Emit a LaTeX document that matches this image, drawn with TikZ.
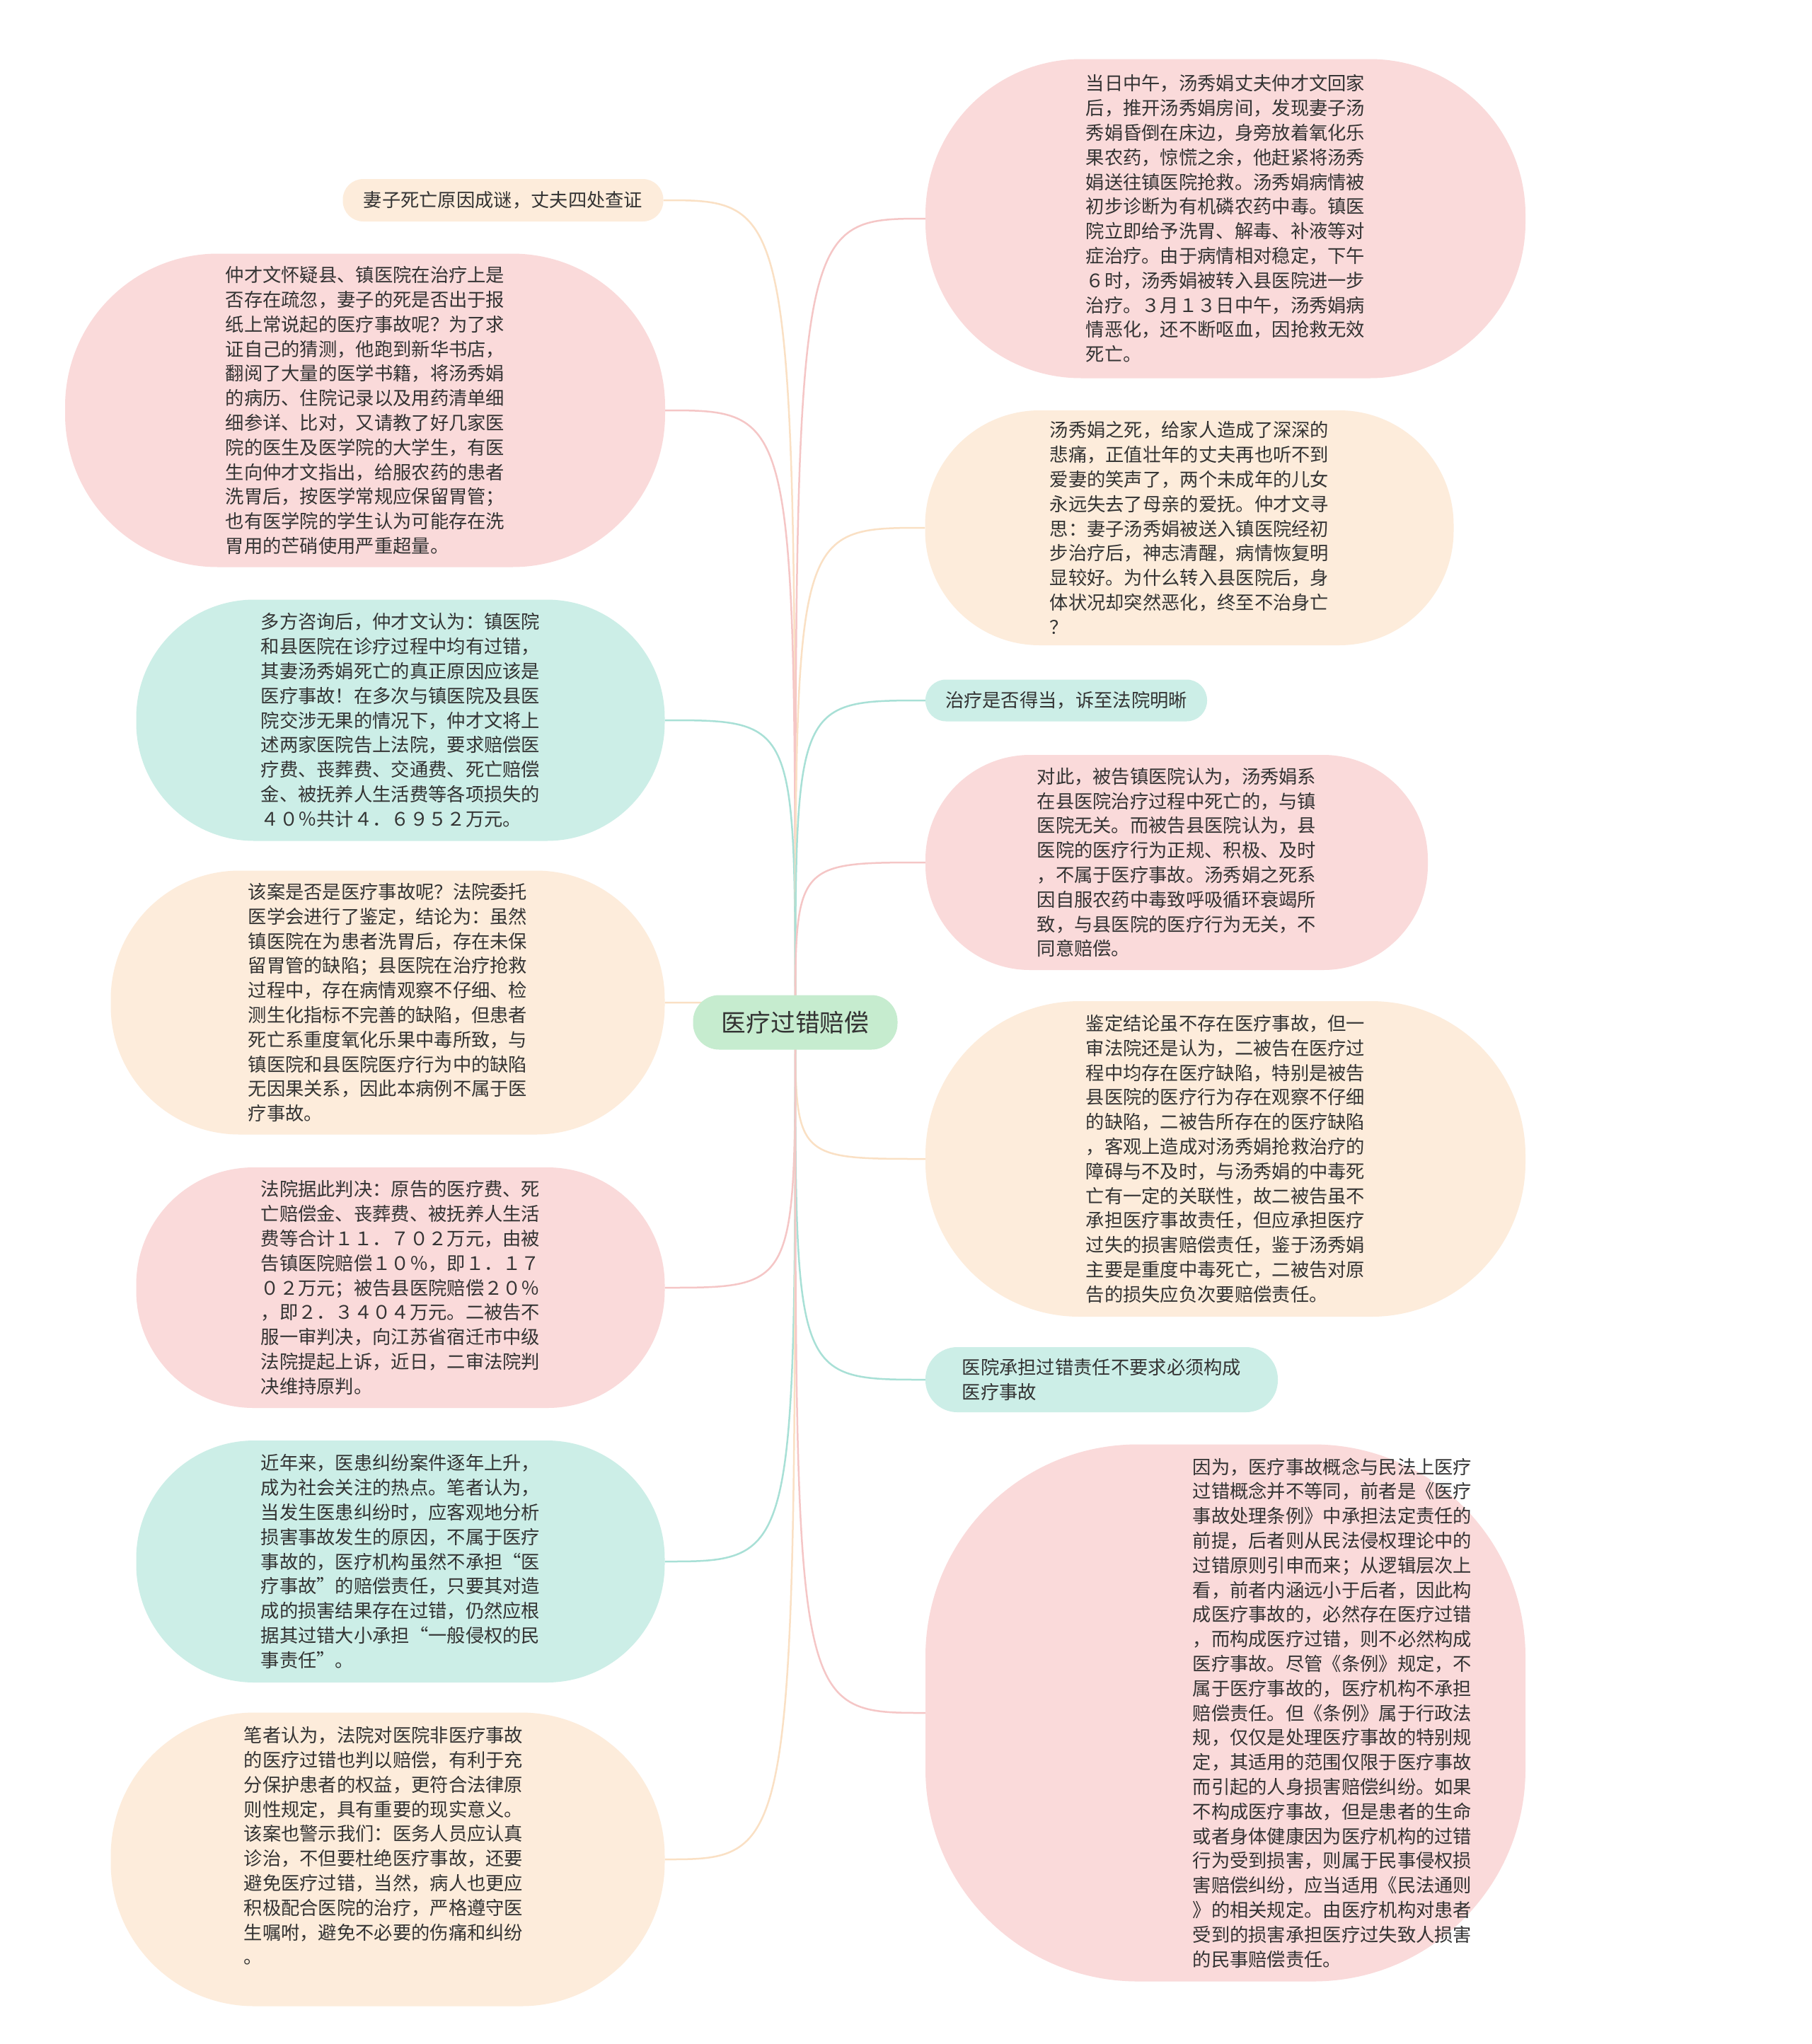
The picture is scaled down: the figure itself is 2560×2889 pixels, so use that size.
\documentclass[tikz,border=0pt]{standalone}
\usepackage{fontspec}
\setmainfont{Noto Sans CJK SC}
\usepackage{tikz}
\definecolor{inkgray}{RGB}{51,51,51}
\definecolor{pinkfill}{RGB}{250,218,218}
\definecolor{peachfill}{RGB}{253,236,219}
\definecolor{tealfill}{RGB}{204,238,231}
\definecolor{rootfill}{RGB}{198,236,207}
\definecolor{pinkedge}{RGB}{245,198,198}
\definecolor{peachedge}{RGB}{250,224,196}
\definecolor{tealedge}{RGB}{168,224,214}
\tikzset{
    every node/.style={text=inkgray, align=left, inner sep=0pt,
    	font=\fontsize{26.3pt}{34.8pt}\selectfont}
}
\tikzset{
    pinkbox/.style={fill=pinkfill},
    peachbox/.style={fill=peachfill},
    tealbox/.style={fill=tealfill},
    rootbox/.style={fill=rootfill, font=\fontsize{34.7pt}{40pt}\selectfont}
}
\tikzset{
    pinkwire/.style={draw=pinkedge, line width=2.5pt},
    peachwire/.style={draw=peachedge, line width=2.5pt},
    tealwire/.style={draw=tealedge, line width=2.5pt}
}
\pgfdeclarelayer{background}
\pgfsetlayers{background,main}

\begin{document}
\begin{tikzpicture}[x=1pt, y=-1pt]
	\useasboundingbox (0,0) rectangle (2560,2889);
	\node (root) [rootbox, minimum width=289pt, minimum height=77pt, rounded corners=37pt] at (1124, 1445) {医疗过错赔偿};

	% left branch
	\node (l1) [peachbox, minimum width=453pt, minimum height=60pt, rounded corners=29pt] at (711, 283) {妻子死亡原因成谜，丈夫四处查证};
	\node (l2) [pinkbox, minimum width=848pt, minimum height=443pt, rounded corners=216pt] at (516, 580) {仲才文怀疑县、镇医院在治疗上是\\否存在疏忽，妻子的死是否出于报\\纸上常说起的医疗事故呢？为了求\\证自己的猜测，他跑到新华书店，\\翻阅了大量的医学书籍，将汤秀娟\\的病历、住院记录以及用药清单细\\细参详、比对，又请教了好几家医\\院的医生及医学院的大学生，有医\\生向仲才文指出，给服农药的患者\\洗胃后，按医学常规应保留胃管；\\也有医学院的学生认为可能存在洗\\胃用的芒硝使用严重超量。};
	\node (l3) [tealbox, minimum width=747pt, minimum height=341pt, rounded corners=167pt] at (566, 1018) {多方咨询后，仲才文认为：镇医院\\和县医院在诊疗过程中均有过错，\\其妻汤秀娟死亡的真正原因应该是\\医疗事故！在多次与镇医院及县医\\院交涉无果的情况下，仲才文将上\\述两家医院告上法院，要求赔偿医\\疗费、丧葬费、交通费、死亡赔偿\\金、被抚养人生活费等各项损失的\\４０％共计４．６９５２万元。};
	\node (l4) [peachbox, minimum width=783pt, minimum height=373pt, rounded corners=182pt] at (548, 1417) {该案是否是医疗事故呢？法院委托\\医学会进行了鉴定，结论为：虽然\\镇医院在为患者洗胃后，存在未保\\留胃管的缺陷；县医院在治疗抢救\\过程中，存在病情观察不仔细、检\\测生化指标不完善的缺陷，但患者\\死亡系重度氧化乐果中毒所致，与\\镇医院和县医院医疗行为中的缺陷\\无因果关系，因此本病例不属于医\\疗事故。};
	\node (l5) [pinkbox, minimum width=747pt, minimum height=340pt, rounded corners=166pt] at (566, 1820) {法院据此判决：原告的医疗费、死\\亡赔偿金、丧葬费、被抚养人生活\\费等合计１１．７０２万元，由被\\告镇医院赔偿１０％，即１．１７\\０２万元；被告县医院赔偿２０％\\，即２．３４０４万元。二被告不\\服一审判决，向江苏省宿迁市中级\\法院提起上诉，近日，二审法院判\\决维持原判。};
	\node (l6) [tealbox, minimum width=747pt, minimum height=342pt, rounded corners=167pt] at (566, 2207) {近年来，医患纠纷案件逐年上升，\\成为社会关注的热点。笔者认为，\\当发生医患纠纷时，应客观地分析\\损害事故发生的原因，不属于医疗\\事故的，医疗机构虽然不承担“医\\疗事故”的赔偿责任，只要其对造\\成的损害结果存在过错，仍然应根\\据其过错大小承担“一般侵权的民\\事责任”。};
	\node (l7) [peachbox, minimum width=783pt, minimum height=415pt, rounded corners=203pt] at (548, 2628) {};
	\node (l7text) at (542, 2609) {笔者认为，法院对医院非医疗事故\\的医疗过错也判以赔偿，有利于充\\分保护患者的权益，更符合法律原\\则性规定，具有重要的现实意义。\\该案也警示我们：医务人员应认真\\诊治，不但要杜绝医疗事故，还要\\避免医疗过错，当然，病人也更应\\积极配合医院的治疗，严格遵守医\\生嘱咐，避免不必要的伤痛和纠纷\\。};

	% right branch
	\node (r1) [pinkbox, minimum width=848pt, minimum height=451pt, rounded corners=220pt] at (1732, 309) {当日中午，汤秀娟丈夫仲才文回家\\后，推开汤秀娟房间，发现妻子汤\\秀娟昏倒在床边，身旁放着氧化乐\\果农药，惊慌之余，他赶紧将汤秀\\娟送往镇医院抢救。汤秀娟病情被\\初步诊断为有机磷农药中毒。镇医\\院立即给予洗胃、解毒、补液等对\\症治疗。由于病情相对稳定，下午\\６时，汤秀娟被转入县医院进一步\\治疗。３月１３日中午，汤秀娟病\\情恶化，还不断呕血，因抢救无效\\死亡。};
	\node (r2) [peachbox, minimum width=747pt, minimum height=332pt, rounded corners=162pt] at (1681, 746) {汤秀娟之死，给家人造成了深深的\\悲痛，正值壮年的丈夫再也听不到\\爱妻的笑声了，两个未成年的儿女\\永远失去了母亲的爱抚。仲才文寻\\思：妻子汤秀娟被送入镇医院经初\\步治疗后，神志清醒，病情恢复明\\显较好。为什么转入县医院后，身\\体状况却突然恶化，终至不治身亡\\？};
	\node (r3) [tealbox, minimum width=398pt, minimum height=59pt, rounded corners=29pt] at (1507, 990) {治疗是否得当，诉至法院明晰};
	\node (r4) [pinkbox, minimum width=710pt, minimum height=304pt, rounded corners=148pt] at (1663, 1219) {对此，被告镇医院认为，汤秀娟系\\在县医院治疗过程中死亡的，与镇\\医院无关。而被告县医院认为，县\\医院的医疗行为正规、积极、及时\\，不属于医疗事故。汤秀娟之死系\\因自服农药中毒致呼吸循环衰竭所\\致，与县医院的医疗行为无关，不\\同意赔偿。};
	\node (r5) [peachbox, minimum width=848pt, minimum height=446pt, rounded corners=218pt] at (1732, 1638) {鉴定结论虽不存在医疗事故，但一\\审法院还是认为，二被告在医疗过\\程中均存在医疗缺陷，特别是被告\\县医院的医疗行为存在观察不仔细\\的缺陷，二被告所存在的医疗缺陷\\，客观上造成对汤秀娟抢救治疗的\\障碍与不及时，与汤秀娟的中毒死\\亡有一定的关联性，故二被告虽不\\承担医疗事故责任，但应承担医疗\\过失的损害赔偿责任，鉴于汤秀娟\\主要是重度中毒死亡，二被告对原\\告的损失应负次要赔偿责任。};
	\node (r6) [tealbox, minimum width=498pt, minimum height=92pt, rounded corners=45pt] at (1557, 1950) {医院承担过错责任不要求必须构成\\医疗事故};
	\node (r7) [pinkbox, minimum width=848pt, minimum height=759pt, rounded corners=300pt] at (1732, 2421) {};
	\node (r7text) at (1883, 2421) {因为，医疗事故概念与民法上医疗\\过错概念并不等同，前者是《医疗\\事故处理条例》中承担法定责任的\\前提，后者则从民法侵权理论中的\\过错原则引申而来；从逻辑层次上\\看，前者内涵远小于后者，因此构\\成医疗事故的，必然存在医疗过错\\，而构成医疗过错，则不必然构成\\医疗事故。尽管《条例》规定，不\\属于医疗事故的，医疗机构不承担\\赔偿责任。但《条例》属于行政法\\规，仅仅是处理医疗事故的特别规\\定，其适用的范围仅限于医疗事故\\而引起的人身损害赔偿纠纷。如果\\不构成医疗事故，但是患者的生命\\或者身体健康因为医疗机构的过错\\行为受到损害，则属于民事侵权损\\害赔偿纠纷，应当适用《民法通则\\》的相关规定。由医疗机构对患者\\受到的损害承担医疗过失致人损害\\的民事赔偿责任。};

	\begin{pgfonlayer}{background}
	\fill[white] (0,0) rectangle (2560,2889);
	\draw[peachwire] (root.center) .. controls (root.center |- l1.east) .. (l1.east);
	\draw[pinkwire] (root.center) .. controls (root.center |- l2.east) .. (l2.east);
	\draw[tealwire] (root.center) .. controls (root.center |- l3.east) .. (l3.east);
	\draw[peachwire] (root.center) .. controls (root.center |- l4.east) .. (l4.east);
	\draw[pinkwire] (root.center) .. controls (root.center |- l5.east) .. (l5.east);
	\draw[tealwire] (root.center) .. controls (root.center |- l6.east) .. (l6.east);
	\draw[peachwire] (root.center) .. controls (root.center |- l7.east) .. (l7.east);
	\draw[pinkwire] (root.center) .. controls (root.center |- r1.west) .. (r1.west);
	\draw[peachwire] (root.center) .. controls (root.center |- r2.west) .. (r2.west);
	\draw[tealwire] (root.center) .. controls (root.center |- r3.west) .. (r3.west);
	\draw[pinkwire] (root.center) .. controls (root.center |- r4.west) .. (r4.west);
	\draw[peachwire] (root.center) .. controls (root.center |- r5.west) .. (r5.west);
	\draw[tealwire] (root.center) .. controls (root.center |- r6.west) .. (r6.west);
	\draw[pinkwire] (root.center) .. controls (root.center |- r7.west) .. (r7.west);
	\end{pgfonlayer}
\end{tikzpicture}
\end{document}
